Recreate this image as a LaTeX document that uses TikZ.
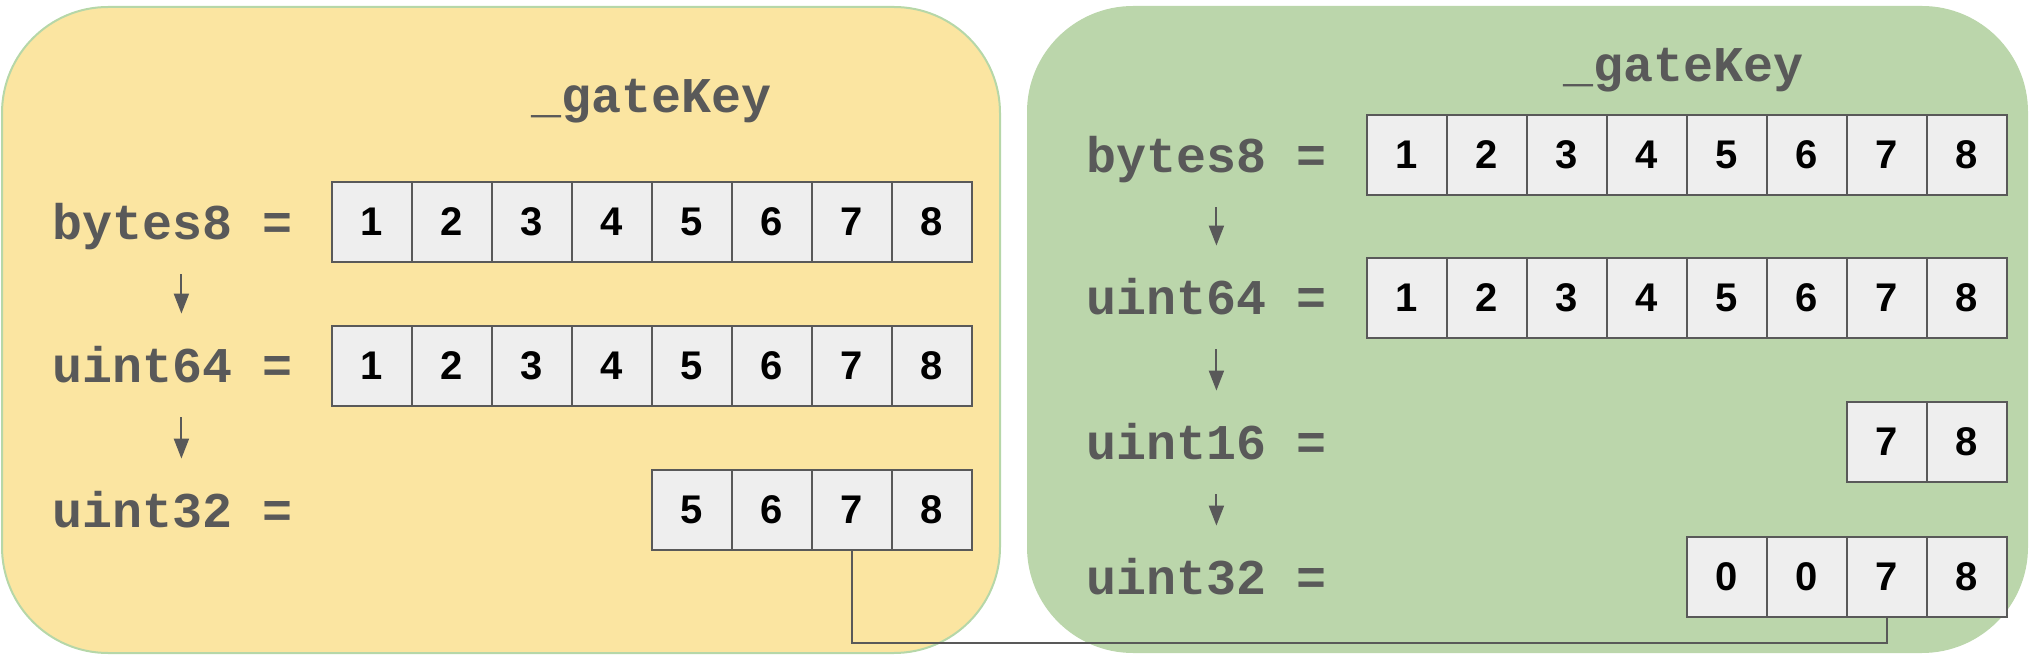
\documentclass[tikz,border=0pt]{standalone}
\usepackage{fontspec}
\usepackage{tikz}
\usetikzlibrary{arrows.meta, positioning}
\newfontfamily\codefont{Liberation Mono}
\newfontfamily\numfont{Liberation Sans}
\definecolor{panelyellow}{HTML}{FBE5A1}
\definecolor{panelgreen}{HTML}{BBD6AB}
\definecolor{panelline}{HTML}{B6D7A8}
\definecolor{cellfill}{HTML}{EEEEEE}
\definecolor{inkgray}{HTML}{595959}
\tikzstyle{panel} = [rounded corners=53pt]
\tikzstyle{byte} = [draw=inkgray, line width=1pt, fill=cellfill, minimum width=40pt, minimum height=40pt, inner sep=0pt, outer sep=0pt, font=\numfont\bfseries\fontsize{20pt}{24pt}\selectfont]
\tikzstyle{var} = [inner sep=0pt, anchor=base west, text=inkgray, text height=16pt, text depth=5pt, font=\codefont\bfseries\fontsize{25pt}{30pt}\selectfont]
\tikzstyle{title} = [inner sep=0pt, anchor=base, text=inkgray, font=\codefont\bfseries\fontsize{25pt}{30pt}\selectfont]
\tikzstyle{arrow} = [draw=inkgray, line width=1pt, -{Triangle[length=10pt, width=7.5pt]}, shorten <=12pt, shorten >=18.5pt]
\tikzstyle{link} = [draw=inkgray, line width=1pt]

\begin{document}
\begin{tikzpicture}[x=0.5pt, y=-0.5pt]
		\useasboundingbox (0,0) rectangle (2030,662);
		\draw[panel, fill=panelyellow, draw=panelline, line width=1pt] (2,7) rectangle (1000,653);
		\fill[panel, panelgreen] (1027,6) rectangle (2028,653);

		\node[title] (ltitle) at (652,113) {\_gateKey};
		\node[var] (lb8) at (52,240) {bytes8 =};
		\node[var] (lu64) at (52,383) {uint64 =};
		\node[var] (lu32) at (52,528) {uint32 =};
		\foreach \i in {1,...,8} \node[byte] (l8-\i) at (292+80*\i,222) {\i};
		\foreach \i in {1,...,8} \node[byte] (l64-\i) at (292+80*\i,366) {\i};
		\foreach \i in {5,...,8} \node[byte] (l32-\i) at (292+80*\i,510) {\i};
		\draw[arrow] ([xshift=4.5pt]lb8.south) -- ([xshift=4.5pt]lu64.north);
		\draw[arrow] ([xshift=4.5pt]lu64.south) -- ([xshift=4.5pt]lu32.north);

		\node[title] (rtitle) at (1684,82) {\_gateKey};
		\node[var] (rb8) at (1086,173) {bytes8 =};
		\node[var] (ru64) at (1086,315) {uint64 =};
		\node[var] (ru16) at (1086,460) {uint16 =};
		\node[var] (ru32) at (1086,595) {uint32 =};
		\foreach \i in {1,...,8} \node[byte] (r8-\i) at (1327+80*\i,155) {\i};
		\foreach \i in {1,...,8} \node[byte] (r64-\i) at (1327+80*\i,298) {\i};
		\foreach \i in {7,8} \node[byte] (r16-\i) at (1327+80*\i,442) {\i};
		\foreach \i/\v in {5/0,6/0,7/7,8/8} \node[byte] (r32-\i) at (1327+80*\i,577) {\v};
		\draw[arrow] ([xshift=5pt]rb8.south) -- ([xshift=5pt]ru64.north);
		\draw[arrow] ([xshift=5pt]ru64.south) -- ([xshift=5pt]ru16.north);
		\draw[arrow] ([xshift=5pt]ru16.south) -- ([xshift=5pt]ru32.north);

		\draw[link] (l32-7.south) -- ++(0,93) -| (r32-7.south);
	\end{tikzpicture}
\end{document}
